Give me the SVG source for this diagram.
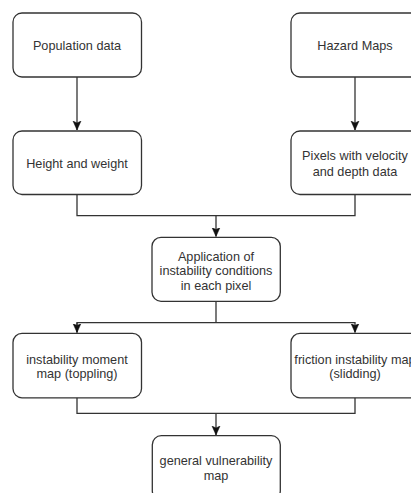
<svg xmlns="http://www.w3.org/2000/svg" width="411" height="493" viewBox="0 0 411 493">
<style>
.box{fill:#fff;stroke:#333;stroke-width:1.3}
.t{font-family:"Liberation Sans",Arial,sans-serif;font-size:12.7px;fill:#333;text-anchor:middle}
.c{fill:none;stroke:#333;stroke-width:1.3}
</style>
<defs>
<marker id="a" markerUnits="userSpaceOnUse" markerWidth="10" markerHeight="10" viewBox="0 0 10 10" refX="9" refY="5" orient="auto">
<path d="M0,1 L9,5 L0,9 L2,5 Z" fill="#111" stroke="#111" stroke-width="0.5"/>
</marker>
</defs>
<rect width="411" height="493" fill="#fff"/>
<g id="connectors">
<path class="c" d="M77,77 V130" marker-end="url(#a)"/>
<path class="c" d="M355,77 V130" marker-end="url(#a)"/>
<path class="c" d="M77,194 V215.7 H355 V194"/>
<path class="c" d="M216,215.7 V236.5" marker-end="url(#a)"/>
<path class="c" d="M216,301 V322.7"/>
<path class="c" d="M77,332.5 V322.7 H355 V332.5" marker-end="url(#a)"/>
<path class="c" d="M77,322.7 V332.5" marker-end="url(#a)"/>
<path class="c" d="M77,397.5 V413.3 H355 V397.5"/>
<path class="c" d="M216,413.3 V435" marker-end="url(#a)"/>
</g>
<g id="population"><rect class="box" x="13" y="13" width="128.5" height="64" rx="9"/><text class="t" x="77" y="49.5">Population data</text></g>
<g id="hazard"><rect class="box" x="291" y="13" width="128.5" height="64" rx="9"/><text class="t" x="355" y="49.5">Hazard Maps</text></g>
<g id="height"><rect class="box" x="13" y="131" width="128.5" height="63.5" rx="9"/><text class="t" x="77" y="167.5">Height and weight</text></g>
<g id="pixels"><rect class="box" x="291" y="131" width="128.5" height="63.5" rx="9"/><text class="t" x="355" y="160">Pixels with velocity</text><text class="t" x="355" y="175.5">and depth data</text></g>
<g id="application"><rect class="box" x="152" y="237.3" width="128.3" height="64" rx="9"/><text class="t" x="216" y="260.5">Application of</text><text class="t" x="216" y="275">instability conditions</text><text class="t" x="216" y="289.5">in each pixel</text></g>
<g id="moment"><rect class="box" x="13" y="333.3" width="128.5" height="64.5" rx="9"/><text class="t" x="77" y="363.7">instability moment</text><text class="t" x="77" y="378.4">map (toppling)</text></g>
<g id="friction"><rect class="box" x="291" y="333.3" width="128.5" height="64.5" rx="9"/><text class="t" x="355" y="363.7">friction instability map</text><text class="t" x="355" y="378.4">(slidding)</text></g>
<g id="general"><rect class="box" x="152.3" y="435.7" width="128" height="64" rx="9"/><text class="t" x="216" y="465.4">general vulnerability</text><text class="t" x="216" y="480.1">map</text></g>
</svg>
